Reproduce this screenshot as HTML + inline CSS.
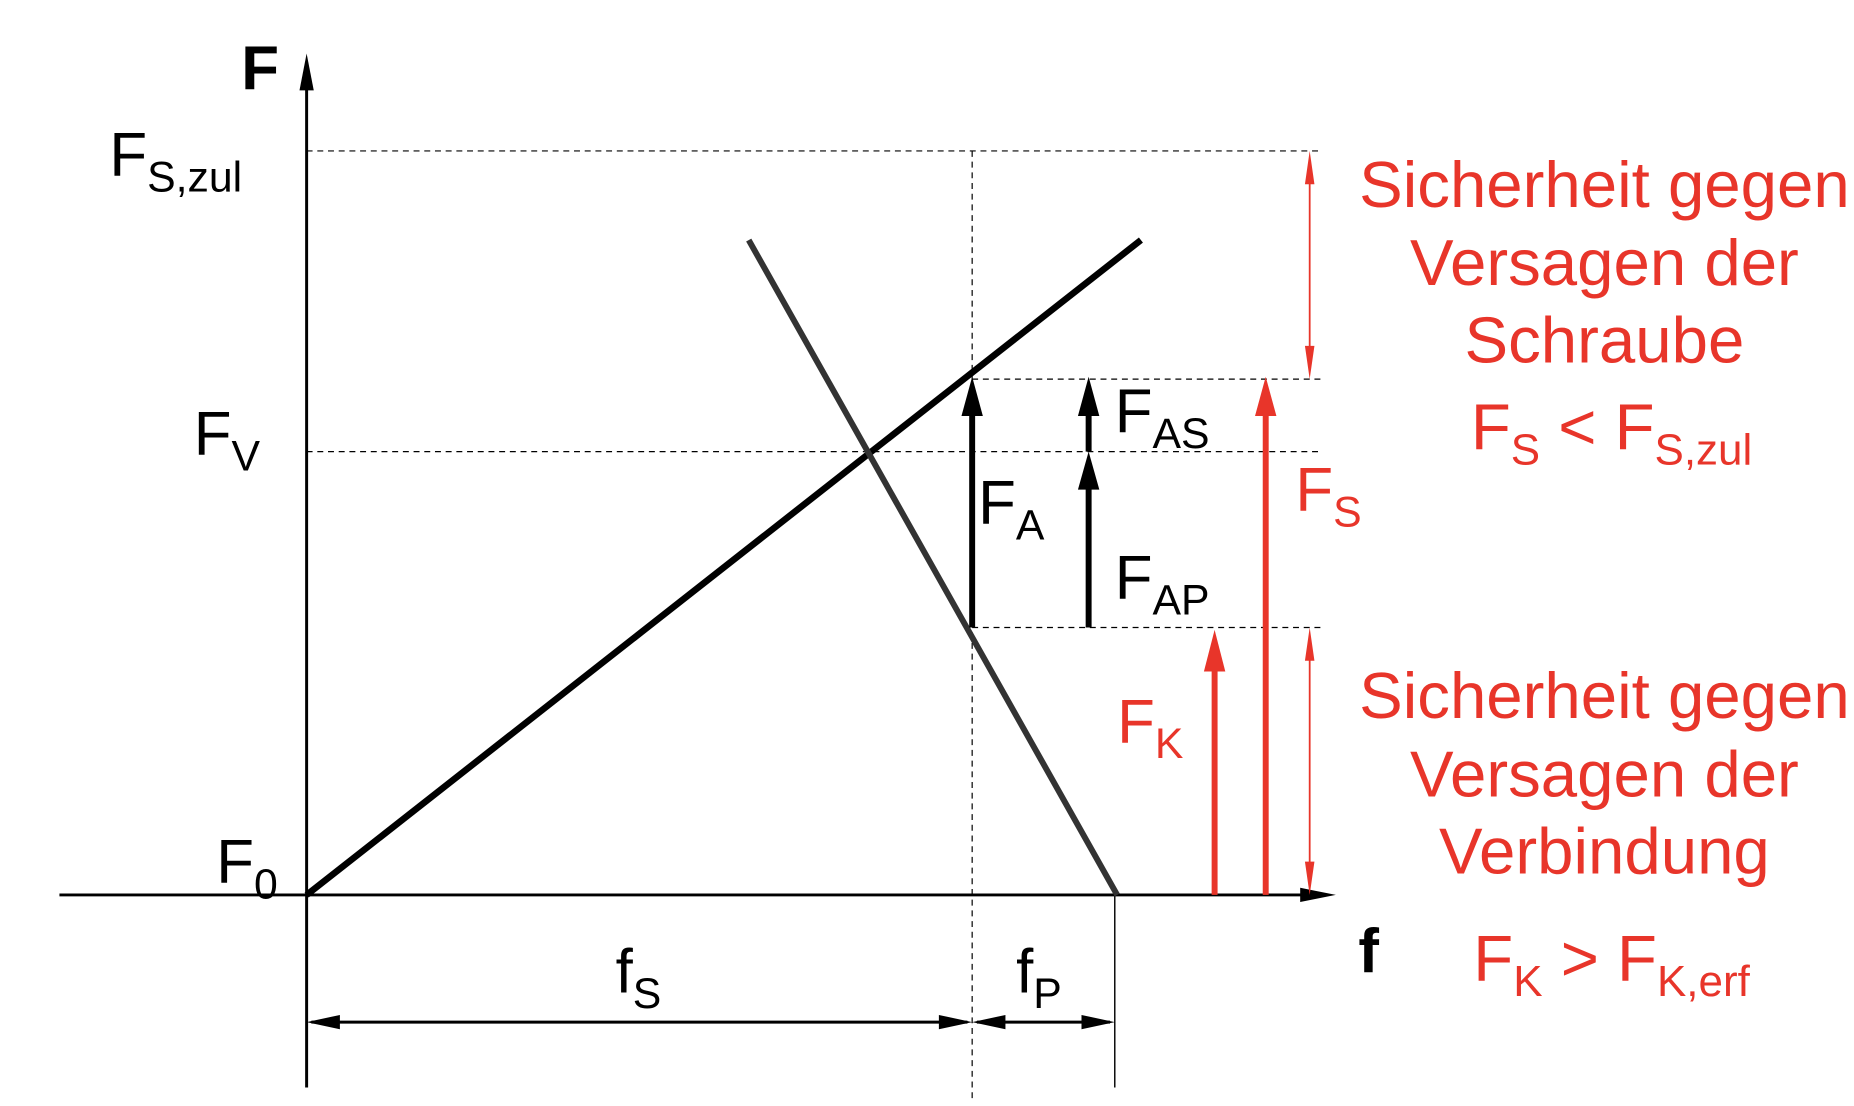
<!DOCTYPE html>
<html><head><meta charset="utf-8"><style>
html,body{margin:0;padding:0;background:#fff;}
svg{display:block;}
text{font-family:"Liberation Sans",sans-serif;}
</style></head><body>
<svg id="chart" width="1854" height="1106" viewBox="0 0 1560 930.6" preserveAspectRatio="none" xmlns="http://www.w3.org/2000/svg">
<g id="lines">
<line x1="258" y1="915" x2="258" y2="70" stroke="#000" stroke-width="2.5"/>
<path d="M258,45 L252,76 L264,76 z" fill="#000"/>
<line x1="50" y1="753" x2="1100" y2="753" stroke="#000" stroke-width="2.5"/>
<path d="M1124,753 L1094,747 L1094,759 z" fill="#000"/>
<g stroke="#000" stroke-width="1" stroke-dasharray="5,4" fill="none">
<line x1="258" y1="127" x2="1112" y2="127"/>
<line x1="258" y1="380" x2="1112" y2="380"/>
<line x1="818" y1="319" x2="1112" y2="319"/>
<line x1="818" y1="528" x2="1112" y2="528"/>
<line x1="818" y1="127" x2="818" y2="925"/>
</g>
<line x1="938" y1="753" x2="938" y2="915" stroke="#000" stroke-width="1.2"/>
<line x1="258" y1="753" x2="960" y2="202" stroke="#000" stroke-width="5.5"/>
<line x1="630" y1="202" x2="940" y2="753" stroke="#333" stroke-width="5"/>
<line x1="818" y1="528" x2="818" y2="345" stroke="#000" stroke-width="5"/>
<path d="M818,317 L809,350 L827,350 z" fill="#000"/>
<line x1="916" y1="528" x2="916" y2="405" stroke="#000" stroke-width="5"/>
<path d="M916,380 L907,412 L925,412 z" fill="#000"/>
<line x1="916" y1="380" x2="916" y2="345" stroke="#000" stroke-width="5"/>
<path d="M916,317 L907,350 L925,350 z" fill="#000"/>
<line x1="1022" y1="753" x2="1022" y2="560" stroke="#e8352a" stroke-width="5"/>
<path d="M1022,530 L1013,565 L1031,565 z" fill="#e8352a"/>
<line x1="1065" y1="753" x2="1065" y2="345" stroke="#e8352a" stroke-width="5"/>
<path d="M1065,317 L1056,350 L1074,350 z" fill="#e8352a"/>
<line x1="1102" y1="135" x2="1102" y2="311" stroke="#e8352a" stroke-width="1.5"/>
<path d="M1102,127 L1098,155 L1106,155 z M1102,319 L1098,291 L1106,291 z" fill="#e8352a"/>
<line x1="1102" y1="536" x2="1102" y2="745" stroke="#e8352a" stroke-width="1.5"/>
<path d="M1102,528 L1098,556 L1106,556 z M1102,753 L1098,725 L1106,725 z" fill="#e8352a"/>
<line x1="262" y1="860" x2="814" y2="860" stroke="#000" stroke-width="2.5"/>
<path d="M258,860 L286,854 L286,866 z M818,860 L790,854 L790,866 z" fill="#000"/>
<line x1="822" y1="860" x2="934" y2="860" stroke="#000" stroke-width="2.5"/>
<path d="M818,860 L846,854 L846,866 z M938,860 L910,854 L910,866 z" fill="#000"/>
</g>
<g font-size="52" fill="#000">
<text x="203" y="75" font-weight="bold">F</text>
<text x="1143" y="818" font-weight="bold">f</text>
<text x="92" y="148">F<tspan font-size="36" dy="13">S,zul</tspan></text>
<text x="163" y="383">F<tspan font-size="36" dy="13">V</tspan></text>
<text x="182" y="743">F<tspan font-size="36" dy="13">0</tspan></text>
<text x="823" y="441">F<tspan font-size="36" dy="13">A</tspan></text>
<text x="938" y="364">F<tspan font-size="36" dy="13">AS</tspan></text>
<text x="938" y="504">F<tspan font-size="36" dy="13">AP</tspan></text>
<text x="518" y="835">f<tspan font-size="36" dy="13">S</tspan></text>
<text x="855" y="835">f<tspan font-size="36" dy="13">P</tspan></text>
</g>
<g font-size="52" fill="#e8352a">
<text x="1090" y="430">F<tspan font-size="36" dy="13">S</tspan></text>
<text x="940" y="625">F<tspan font-size="36" dy="13">K</tspan></text>
<g text-anchor="middle" font-size="55">
<text x="1350" y="174">Sicherheit gegen</text>
<text x="1350" y="240">Versagen der</text>
<text x="1350" y="305">Schraube</text>
<text x="1356" y="378">F<tspan font-size="37" dy="13">S</tspan><tspan dy="-13"> &lt; F</tspan><tspan font-size="37" dy="13">S,zul</tspan></text>
<text x="1350" y="604">Sicherheit gegen</text>
<text x="1350" y="670">Versagen der</text>
<text x="1350" y="735">Verbindung</text>
<text x="1356" y="825">F<tspan font-size="37" dy="13">K</tspan><tspan dy="-13"> &gt; F</tspan><tspan font-size="37" dy="13">K,erf</tspan></text>
</g>
</g>
</svg>
</body></html>
